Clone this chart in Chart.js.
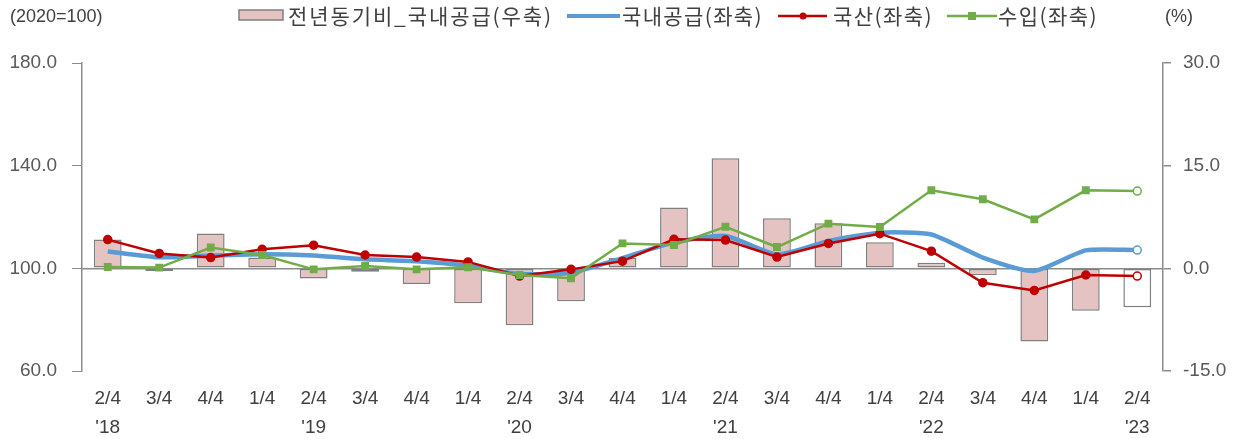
<!DOCTYPE html>
<html>
<head>
<meta charset="utf-8">
<script src="https://cdn.jsdelivr.net/npm/chart.js@4"></script>
<style>
  html, body { margin: 0; padding: 0; background: #fff; }
  #wrap { width: 1241px; height: 439px; position: relative; }
</style>
</head>
<body>
<div id="wrap"><canvas id="chart" width="1241" height="439"></canvas></div>
<script>
// categories (quarter / year)
const quarters = ['2/4','3/4','4/4','1/4','2/4','3/4','4/4','1/4','2/4','3/4','4/4','1/4','2/4','3/4','4/4','1/4','2/4','3/4','4/4','1/4','2/4'];
const years = ["'18",'','','',"'19",'','','',"'20",'','','',"'21",'','','',"'22",'','','',"'23"];

// 전년동기비_국내공급 (%, right axis)
const yoySupply = [4.2, -0.4, 5.1, 1.6, -1.5, -0.5, -2.3, -5.1, -8.3, -4.8, 1.5, 8.9, 16.1, 7.3, 6.6, 3.8, 0.8, -1.0, -10.7, -6.2, -5.7];
// 국내공급 (2020=100, left axis)
const supply = [106.6, 104.3, 105.0, 105.5, 105.0, 103.5, 102.8, 101.0, 97.8, 98.3, 104.0, 110.1, 112.6, 105.4, 110.6, 113.9, 113.2, 104.2, 99.0, 107.0, 107.1];
// 국산
const domestic = [111.2, 105.8, 104.2, 107.4, 109.0, 105.2, 104.4, 102.5, 97.0, 99.6, 102.8, 111.3, 111.0, 104.4, 109.7, 113.5, 106.7, 94.4, 91.4, 97.4, 97.0];
// 수입
const imports = [100.5, 100.3, 108.1, 105.2, 99.6, 100.9, 99.6, 100.4, 97.4, 96.1, 109.7, 109.1, 116.2, 108.3, 117.4, 116.1, 130.4, 126.9, 119.1, 130.4, 130.1];

const labels = quarters.map((q, i) => [q, years[i]]);
const last = quarters.length - 1;

const korFont = '"Noto Sans CJK KR", "Noto Sans", sans-serif';
const numFont = '"Liberation Sans", Arial, sans-serif';
const axisGray = '#8c8c8c';
const textGray = '#404040';

// draw text stretched to a given width (legend in the reference is wide-spaced)
function fitText(c, txt, x, y, width) {
  c.letterSpacing = '0px';
  const w = c.measureText(txt).width;
  const n = [...txt].length;
  const sp = Math.max(-1, (width - w) / n);
  c.letterSpacing = sp.toFixed(2) + 'px';
  c.fillText(txt, x, y);
  c.letterSpacing = '0px';
}

// legend + unit labels drawn at the top
const topLegend = {
  id: 'topLegend',
  afterDraw(chart) {
    const c = chart.ctx;
    c.save();
    c.textBaseline = 'middle';
    c.fillStyle = textGray;
    c.font = '18px ' + numFont;
    c.fillText('(2020=100)', 10, 17);
    c.fillText('(%)', 1165, 17);

    const y = 16;
    c.font = '21px ' + korFont;
    // bar item
    c.fillStyle = '#e6c3c3';
    c.strokeStyle = '#7f7f7f';
    c.lineWidth = 1.5;
    c.fillRect(239, 10, 44, 10);
    c.strokeRect(239, 10, 44, 10);
    c.fillStyle = textGray;
    fitText(c, '전년동기비_국내공급(우축)', 288, y, 265);
    // blue line
    c.strokeStyle = '#5b9bd5';
    c.lineWidth = 4;
    c.beginPath(); c.moveTo(567, y); c.lineTo(620, y); c.stroke();
    fitText(c, '국내공급(좌축)', 622, y, 141);
    // red line w/ dot
    c.strokeStyle = '#c00000';
    c.lineWidth = 2.5;
    c.beginPath(); c.moveTo(778, y); c.lineTo(827, y); c.stroke();
    c.fillStyle = '#c00000';
    c.beginPath(); c.arc(803, y, 3.5, 0, Math.PI * 2); c.fill();
    c.fillStyle = textGray;
    fitText(c, '국산(좌축)', 833, y, 100);
    // green line w/ square
    c.strokeStyle = '#70ad47';
    c.beginPath(); c.moveTo(947, y); c.lineTo(997, y); c.stroke();
    c.fillStyle = '#70ad47';
    c.fillRect(968, y - 4, 8, 8);
    c.fillStyle = textGray;
    fitText(c, '수입(좌축)', 998, y, 100);
    c.restore();
  }
};

new Chart(document.getElementById('chart').getContext('2d'), {
  type: 'bar',
  data: {
    labels: labels,
    datasets: [
      {
        type: 'line',
        label: '수입(좌축)',
        data: imports,
        yAxisID: 'yL',
        borderColor: '#70ad47',
        borderWidth: 2.5,
        pointStyle: imports.map((v, i) => i === last ? 'circle' : 'rect'),
        pointRadius: imports.map((v, i) => i === last ? 4 : 4.5),
        pointBackgroundColor: imports.map((v, i) => i === last ? '#ffffff' : '#70ad47'),
        pointBorderColor: '#70ad47',
        pointBorderWidth: 1.5,
        order: 1,
      },
      {
        type: 'line',
        label: '국산(좌축)',
        data: domestic,
        yAxisID: 'yL',
        borderColor: '#c00000',
        borderWidth: 2.5,
        pointStyle: 'circle',
        pointRadius: 4,
        pointBackgroundColor: domestic.map((v, i) => i === last ? '#ffffff' : '#c00000'),
        pointBorderColor: '#c00000',
        pointBorderWidth: 1.5,
        order: 2,
      },
      {
        type: 'line',
        label: '국내공급(좌축)',
        data: supply,
        yAxisID: 'yL',
        borderColor: '#5b9bd5',
        borderWidth: 4.5,
        tension: 0.2,
        pointRadius: supply.map((v, i) => i === last ? 4 : 0),
        pointBackgroundColor: '#ffffff',
        pointBorderColor: '#5b9bd5',
        pointBorderWidth: 1.5,
        order: 3,
      },
      {
        label: '전년동기비_국내공급(우축)',
        data: yoySupply,
        yAxisID: 'yR',
        backgroundColor: yoySupply.map((v, i) => i === last ? '#ffffff' : '#e6c3c3'),
        borderColor: '#7f7f7f',
        borderWidth: 1.5,
        borderSkipped: false,
        categoryPercentage: 1,
        barPercentage: 0.54,
        order: 4,
      },
    ],
  },
  options: {
    responsive: false,
    animation: false,
    layout: { padding: { top: 63, left: 0, right: 0, bottom: 0 } },
    plugins: { legend: { display: false }, tooltip: { enabled: false } },
    scales: {
      x: {
        grid: { display: false },
        border: { display: false },
        ticks: {
          color: textGray,
          font: { family: numFont, size: 19, lineHeight: 1.55 },
          maxRotation: 0,
          autoSkip: false,
          padding: 5,
        },
        afterFit(axis) { axis.height = 68; },
      },
      yL: {
        position: 'left',
        min: 60, max: 180,
        ticks: {
          stepSize: 40,
          color: '#595959',
          font: { family: numFont, size: 19 },
          padding: 15,
          callback: v => v.toFixed(1),
        },
        grid: { drawOnChartArea: false, tickLength: 10, color: axisGray },
        border: { color: axisGray, width: 1.5 },
        afterFit(axis) { axis.width = 82; },
      },
      yR: {
        position: 'right',
        min: -15, max: 30,
        ticks: {
          stepSize: 15,
          color: '#595959',
          font: { family: numFont, size: 19 },
          padding: 12,
          callback: v => v.toFixed(1),
        },
        grid: {
          drawOnChartArea: true,
          tickLength: 8,
          color: ctx => (ctx.tick && ctx.tick.value === 0) ? axisGray : 'rgba(0,0,0,0)',
          tickColor: axisGray,
          lineWidth: 1.5,
        },
        border: { color: axisGray, width: 1.5 },
        afterFit(axis) { axis.width = 78; },
      },
    },
  },
  plugins: [topLegend],
});
</script>
</body>
</html>
